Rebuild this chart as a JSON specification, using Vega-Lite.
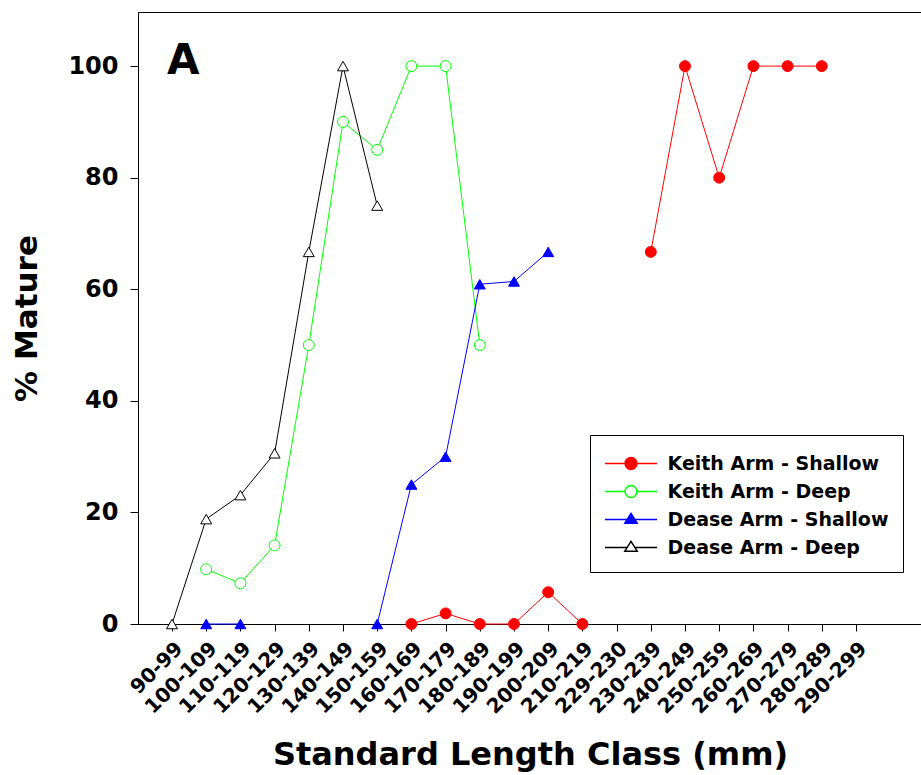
{
  "$schema": "https://vega.github.io/schema/vega-lite/v6.json",
  "width": 784,
  "height": 612,
  "autosize": {"type": "none"},
  "padding": {"left": 138, "top": 12, "right": 0, "bottom": 151},
  "background": "white",
  "config": {
    "view": {"stroke": "black", "strokeWidth": 1},
    "font": "DejaVu Sans",
    "axis": {"grid": false, "domainColor": "black", "tickColor": "black", "labelColor": "black", "titleColor": "black", "labelFont": "DejaVu Sans", "titleFont": "DejaVu Sans", "labelFontWeight": "bold", "titleFontWeight": "bold", "domainWidth": 1, "tickWidth": 1},
    "legend": {"orient": "none", "legendX": 452, "legendY": 423, "strokeColor": "black", "fillColor": "white", "padding": 14, "rowPadding": 3, "symbolSize": 729, "symbolOffset": 12.5, "symbolStrokeWidth": 1.5, "labelFont": "DejaVu Sans", "labelFontWeight": "bold", "labelFontSize": 19, "labelColor": "black", "labelOffset": 22, "labelLimit": 400}
  },
  "datasets": {
    "pts": [
      {"series": "Keith Arm - Shallow", "part": 1, "cls": "160-169", "pct": 0},
      {"series": "Keith Arm - Shallow", "part": 1, "cls": "170-179", "pct": 1.9},
      {"series": "Keith Arm - Shallow", "part": 1, "cls": "180-189", "pct": 0},
      {"series": "Keith Arm - Shallow", "part": 1, "cls": "190-199", "pct": 0},
      {"series": "Keith Arm - Shallow", "part": 1, "cls": "200-209", "pct": 5.7},
      {"series": "Keith Arm - Shallow", "part": 1, "cls": "210-219", "pct": 0},
      {"series": "Keith Arm - Shallow", "part": 2, "cls": "230-239", "pct": 66.7},
      {"series": "Keith Arm - Shallow", "part": 2, "cls": "240-249", "pct": 100},
      {"series": "Keith Arm - Shallow", "part": 2, "cls": "250-259", "pct": 80},
      {"series": "Keith Arm - Shallow", "part": 2, "cls": "260-269", "pct": 100},
      {"series": "Keith Arm - Shallow", "part": 2, "cls": "270-279", "pct": 100},
      {"series": "Keith Arm - Shallow", "part": 2, "cls": "280-289", "pct": 100},
      {"series": "Keith Arm - Deep", "part": 1, "cls": "100-109", "pct": 9.8},
      {"series": "Keith Arm - Deep", "part": 1, "cls": "110-119", "pct": 7.3},
      {"series": "Keith Arm - Deep", "part": 1, "cls": "120-129", "pct": 14.1},
      {"series": "Keith Arm - Deep", "part": 1, "cls": "130-139", "pct": 50},
      {"series": "Keith Arm - Deep", "part": 1, "cls": "140-149", "pct": 90},
      {"series": "Keith Arm - Deep", "part": 1, "cls": "150-159", "pct": 85},
      {"series": "Keith Arm - Deep", "part": 1, "cls": "160-169", "pct": 100},
      {"series": "Keith Arm - Deep", "part": 1, "cls": "170-179", "pct": 100},
      {"series": "Keith Arm - Deep", "part": 1, "cls": "180-189", "pct": 50},
      {"series": "Dease Arm - Shallow", "part": 1, "cls": "100-109", "pct": 0},
      {"series": "Dease Arm - Shallow", "part": 1, "cls": "110-119", "pct": 0},
      {"series": "Dease Arm - Shallow", "part": 2, "cls": "150-159", "pct": 0},
      {"series": "Dease Arm - Shallow", "part": 2, "cls": "160-169", "pct": 25},
      {"series": "Dease Arm - Shallow", "part": 2, "cls": "170-179", "pct": 30},
      {"series": "Dease Arm - Shallow", "part": 2, "cls": "180-189", "pct": 60.9},
      {"series": "Dease Arm - Shallow", "part": 2, "cls": "190-199", "pct": 61.4},
      {"series": "Dease Arm - Shallow", "part": 2, "cls": "200-209", "pct": 66.7},
      {"series": "Dease Arm - Deep", "part": 1, "cls": "90-99", "pct": 0},
      {"series": "Dease Arm - Deep", "part": 1, "cls": "100-109", "pct": 18.8},
      {"series": "Dease Arm - Deep", "part": 1, "cls": "110-119", "pct": 23.1},
      {"series": "Dease Arm - Deep", "part": 1, "cls": "120-129", "pct": 30.6},
      {"series": "Dease Arm - Deep", "part": 1, "cls": "130-139", "pct": 66.7},
      {"series": "Dease Arm - Deep", "part": 1, "cls": "140-149", "pct": 100},
      {"series": "Dease Arm - Deep", "part": 1, "cls": "150-159", "pct": 75}
    ],
    "panel": [
      {"label": "A", "cls": "90-99", "pct": 100}
    ]
  },
  "encoding": {
    "x": {
      "field": "cls", "type": "ordinal",
      "scale": {"type": "point", "domain": ["90-99","100-109","110-119","120-129","130-139","140-149","150-159","160-169","170-179","180-189","190-199","200-209","210-219","229-230","230-239","240-249","250-259","260-269","270-279","280-289","290-299"], "range": [34, 718], "padding": 0},
      "axis": {"title": "Standard Length Class (mm)", "labelAngle": -45, "labelFontSize": 20, "titleFontSize": 32, "tickSize": 7, "labelPadding": 7, "titlePadding": 22, "titleX": 392, "titleAnchor": null, "titleAlign": "center"}
    },
    "y": {
      "field": "pct", "type": "quantitative",
      "scale": {"domain": [0, 109.7], "nice": false, "zero": true},
      "axis": {"title": "% Mature", "values": [0, 20, 40, 60, 80, 100], "labelFontSize": 24, "titleFontSize": 31, "tickSize": 8, "labelPadding": 12, "titlePadding": 24}
    }
  },
  "layer": [
    {
      "data": {"name": "pts"},
      "mark": {"type": "line", "strokeWidth": 1},
      "encoding": {
        "color": {"field": "series", "type": "nominal", "scale": {"domain": ["Keith Arm - Shallow", "Keith Arm - Deep", "Dease Arm - Shallow", "Dease Arm - Deep"], "range": ["#FF0000", "#00FF00", "#0000FF", "#000000"]}, "legend": null},
        "detail": {"field": "part", "type": "nominal"},
        "order": {"value": null}
      }
    },
    {
      "data": {"name": "pts"},
      "mark": {"type": "point", "filled": true, "opacity": 1, "strokeWidth": 1},
      "encoding": {
        "shape": {"field": "series", "type": "nominal", "scale": {"domain": ["Keith Arm - Shallow", "Keith Arm - Deep", "Dease Arm - Shallow", "Dease Arm - Deep"], "range": ["circle", "circle", "triangle-up", "triangle-up"]}, "legend": null},
        "fill": {"field": "series", "type": "nominal", "scale": {"domain": ["Keith Arm - Shallow", "Keith Arm - Deep", "Dease Arm - Shallow", "Dease Arm - Deep"], "range": ["#FF0000", "#FFFFFF", "#0000FF", "#FFFFFF"]}, "legend": null},
        "stroke": {"field": "series", "type": "nominal", "scale": {"domain": ["Keith Arm - Shallow", "Keith Arm - Deep", "Dease Arm - Shallow", "Dease Arm - Deep"], "range": ["#FF0000", "#00FF00", "#0000FF", "#000000"]}, "legend": null},
        "size": {"field": "series", "type": "nominal", "scale": {"domain": ["Keith Arm - Shallow", "Keith Arm - Deep", "Dease Arm - Shallow", "Dease Arm - Deep"], "range": [120, 120, 170, 170]}, "legend": null}
      }
    },
    {
      "data": {"name": "pts"},
      "transform": [{"filter": "false"}],
      "mark": {"type": "point", "filled": true, "opacity": 1, "strokeWidth": 1.5},
      "encoding": {
        "shape": {"field": "series", "type": "nominal", "title": null,
          "scale": {"domain": ["Keith Arm - Shallow", "Keith Arm - Deep", "Dease Arm - Shallow", "Dease Arm - Deep"], "range": [
            "M-1.93,0H-0.44M0.44,0H1.93M-0.44,0A0.44,0.44,0,1,0,0.44,0A0.44,0.44,0,1,0,-0.44,0Z",
            "M-1.93,0H-0.44M0.44,0H1.93M-0.44,0A0.44,0.44,0,1,0,0.44,0A0.44,0.44,0,1,0,-0.44,0Z",
            "M-1.93,0H-0.29M0.29,0H1.93M0,-0.46L0.46,0.27L-0.46,0.27Z",
            "M-1.93,0H-0.29M0.29,0H1.93M0,-0.46L0.46,0.27L-0.46,0.27Z"]}
        },
        "fill": {"field": "series", "type": "nominal", "title": null, "scale": {"domain": ["Keith Arm - Shallow", "Keith Arm - Deep", "Dease Arm - Shallow", "Dease Arm - Deep"], "range": ["#FF0000", "#FFFFFF", "#0000FF", "#FFFFFF"]}},
        "stroke": {"field": "series", "type": "nominal", "title": null, "scale": {"domain": ["Keith Arm - Shallow", "Keith Arm - Deep", "Dease Arm - Shallow", "Dease Arm - Deep"], "range": ["#FF0000", "#00FF00", "#0000FF", "#000000"]}}
      }
    },
    {
      "data": {"name": "panel"},
      "mark": {"type": "text", "font": "DejaVu Sans", "fontWeight": "bold", "fontSize": 42, "align": "left", "baseline": "middle", "dx": -5, "dy": -5, "color": "black"},
      "encoding": {
        "text": {"field": "label"}
      }
    }
  ],
  "resolve": {"scale": {"shape": "independent", "fill": "independent", "stroke": "independent", "size": "independent"}}
}
